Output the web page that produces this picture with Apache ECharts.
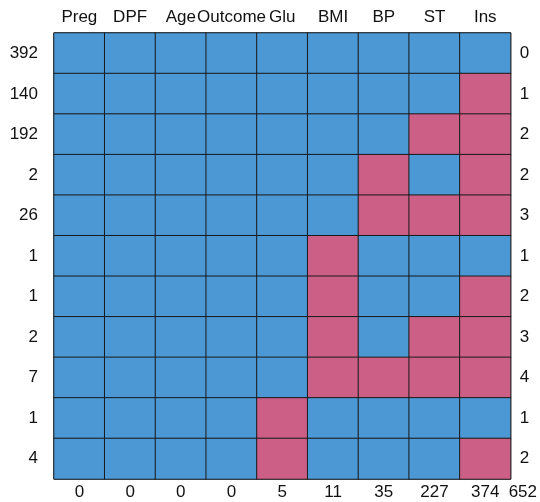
<!DOCTYPE html>
<html><head><meta charset="utf-8">
<script src="https://cdn.jsdelivr.net/npm/echarts@6/dist/echarts.min.js"></script>
<style>html,body{margin:0;padding:0;background:#fff}#c{width:540px;height:502px}</style>
</head><body><div id="c"></div>
<script>
const columns = ['Preg','DPF','Age','Outcome','Glu','BMI','BP','ST','Ins'];
const rowCounts = ['392','140','192','2','26','1','1','2','7','1','4'];
const rowMissing = ['0','1','2','2','3','1','2','3','4','1','2'];
const colMissing = ['0','0','0','0','5','11','35','227','374'];
const totalMissing = '652';
// 1 = missing, 0 = observed
const patterns = [
  [0,0,0,0,0,0,0,0,0],
  [0,0,0,0,0,0,0,0,1],
  [0,0,0,0,0,0,0,1,1],
  [0,0,0,0,0,0,1,0,1],
  [0,0,0,0,0,0,1,1,1],
  [0,0,0,0,0,1,0,0,0],
  [0,0,0,0,0,1,0,0,1],
  [0,0,0,0,0,1,0,1,1],
  [0,0,0,0,0,1,1,1,1],
  [0,0,0,0,1,0,0,0,0],
  [0,0,0,0,1,0,0,0,1]
];
const cells = [];
patterns.forEach((r, i) => r.forEach((v, j) => cells.push([j, i, v])));
const font = {fontFamily: 'Liberation Sans, Arial, sans-serif', fontSize: 17, color: '#111'};
const chart = echarts.init(document.getElementById('c'));
chart.setOption({
  animation: false,
  grid: {left: 54, right: 28, top: 33, bottom: 23, show: true, borderColor: '#555', borderWidth: 1, backgroundColor: 'transparent'},
  xAxis: [
    {type: 'category', data: columns, position: 'top', axisLine: {show: false}, axisTick: {show: false}, splitLine: {show: false},
     axisLabel: Object.assign({interval: 0, margin: 7}, font)},
    {type: 'category', data: colMissing, position: 'bottom', axisLine: {show: false}, axisTick: {show: false}, splitLine: {show: false},
     axisLabel: Object.assign({interval: 0, margin: 5}, font)}
  ],
  yAxis: [
    {type: 'category', data: rowCounts, inverse: true, position: 'left', axisLine: {show: false}, axisTick: {show: false}, splitLine: {show: false},
     axisLabel: Object.assign({interval: 0, margin: 16}, font)},
    {type: 'category', data: rowMissing, inverse: true, position: 'right', axisLine: {show: false}, axisTick: {show: false}, splitLine: {show: false},
     axisLabel: Object.assign({interval: 0, margin: 9}, font),
     name: totalMissing, nameLocation: 'end', nameGap: 13,
     nameTextStyle: Object.assign({align: 'left', verticalAlign: 'middle', padding: [0,0,0,-2]}, font)}
  ],
  visualMap: {show: false, type: 'piecewise', dimension: 2,
    pieces: [{value: 0, color: '#4C98D4'}, {value: 1, color: '#CC5F85'}]},
  series: [{type: 'heatmap', xAxisIndex: 0, yAxisIndex: 0, data: cells,
    itemStyle: {borderColor: '#1a1a1a', borderWidth: 1},
    emphasis: {disabled: true}}]
});
</script></body></html>
